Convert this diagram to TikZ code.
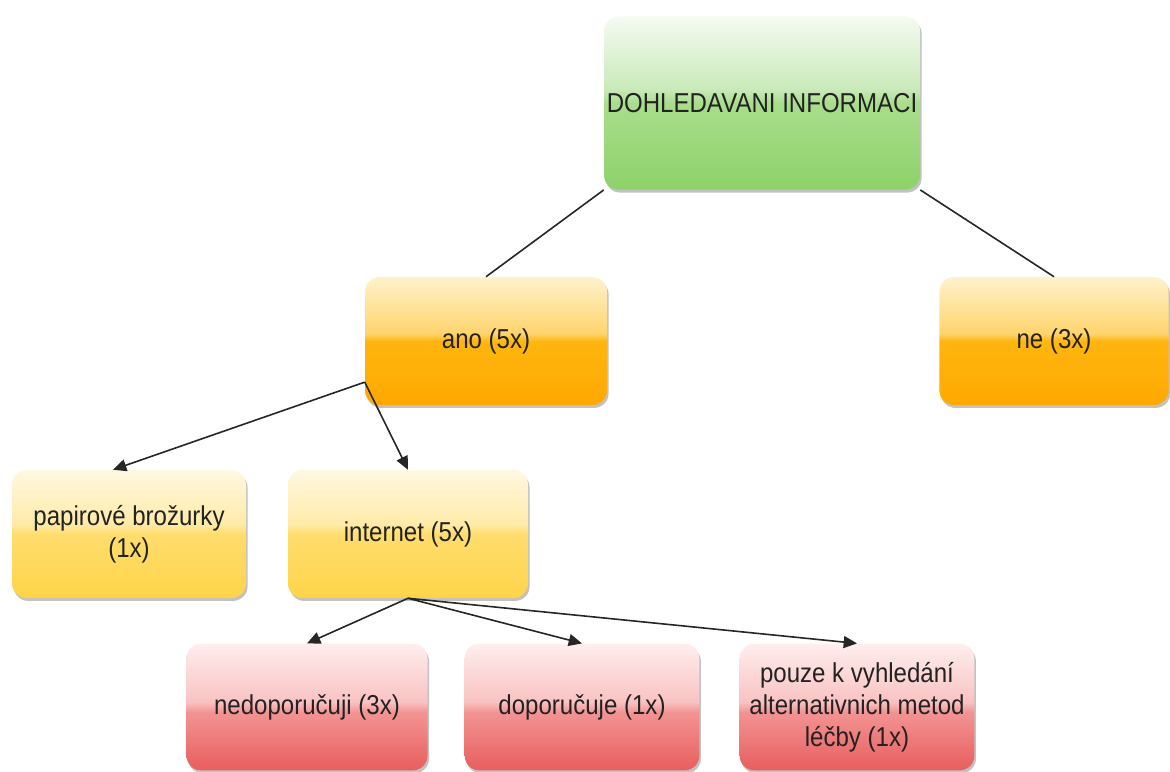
\documentclass[tikz,border=0pt]{standalone}
\usepackage{fontspec}
\setmainfont{Liberation Sans}[FakeStretch=0.88]
\usetikzlibrary{shadows,arrows.meta,calc}
\definecolor{txt}{HTML}{222222}
\definecolor{orB}{HTML}{FFA800}
\definecolor{orM}{HTML}{FFB60F}
\definecolor{orL}{HTML}{FFD46E}
\definecolor{orT}{HTML}{FFF2CC}
\definecolor{yeB}{HTML}{FFD448}
\definecolor{yeM}{HTML}{FFDD6E}
\definecolor{yeL}{HTML}{FFEBA8}
\definecolor{yeT}{HTML}{FFF8E2}
\definecolor{reB}{HTML}{E85E5E}
\definecolor{reM}{HTML}{F39393}
\definecolor{reL}{HTML}{F9C2C2}
\definecolor{reT}{HTML}{FFEEEE}
\definecolor{grB}{HTML}{8DD26A}
\definecolor{grM}{HTML}{A9DD8C}
\definecolor{grL}{HTML}{C9EABA}
\definecolor{grT}{HTML}{F5FBF2}
\pgfdeclareverticalshading{orgloss}{100bp}{color(0bp)=(orB); color(25bp)=(orB); color(50bp)=(orM); color(53bp)=(orL); color(75bp)=(orT); color(100bp)=(orT)}
\pgfdeclareverticalshading{yegloss}{100bp}{color(0bp)=(yeB); color(25bp)=(yeB); color(50bp)=(yeM); color(54bp)=(yeL); color(75bp)=(yeT); color(100bp)=(yeT)}
\pgfdeclareverticalshading{regloss}{100bp}{color(0bp)=(reB); color(25bp)=(reB); color(48bp)=(reM); color(52bp)=(reL); color(75bp)=(reT); color(100bp)=(reT)}
\pgfdeclareverticalshading{grgloss}{100bp}{color(0bp)=(grB); color(25bp)=(grB); color(50bp)=(grM); color(54bp)=(grL); color(75bp)=(grT); color(100bp)=(grT)}
\tikzset{
  box/.style={rounded corners=11pt, draw=none, text=txt, align=center,
    font=\fontsize{20.5}{24}\selectfont, inner sep=0pt,
    drop shadow={shadow xshift=1.2pt, shadow yshift=-2.2pt, opacity=0.4, fill=black!60}},
  greenbox/.style={box, shading=grgloss, minimum width=237pt, minimum height=130pt},
  orangebox/.style={box, shading=orgloss, minimum height=96pt},
  yellowbox/.style={box, shading=yegloss, minimum height=96pt},
  redbox/.style={box, shading=regloss, minimum height=95pt},
  conn/.style={draw=black!85, line width=1.2pt},
  arr/.style={conn, -{Triangle[length=10pt,width=9pt]}}
}
\begin{document}
\begin{tikzpicture}[x=0.75pt,y=-0.75pt]
\useasboundingbox (0,0) rectangle (1170,771);
\node[greenbox] (top) at (762,103) {DOHLEDAVANI INFORMACI};
\node[orangebox, minimum width=181.5pt] (ano) at (486,341) {ano (5x)};
\node[orangebox, minimum width=172pt] (ne) at (1054,341) {ne (3x)};
\node[yellowbox, minimum width=175.5pt] (pap) at (129,534) {papirové brožurky\\(1x)};
\node[yellowbox, minimum width=180pt] (int) at (408,534) {internet (5x)};
\node[redbox, minimum width=180.75pt] (ned) at (307,707) {nedoporučuji (3x)};
\node[redbox, minimum width=176pt] (dop) at (582,707) {doporučuje (1x)};
\node[redbox, minimum width=176pt] (pou) at (857,707) {pouze k vyhledání\\alternativnich metod\\léčby (1x)};
\coordinate (a0) at ($(ano.west)!0.64!(ano.south west)$);
\coordinate (papin) at ($(pap.north)+(-16,0)$);
\draw[conn] (top.south west) -- (ano.north);
\draw[conn] (top.south east) -- (ne.north);
\draw[arr] (a0) -- (papin);
\draw[arr] (a0) -- (int.north);
\draw[arr] (int.south) -- (ned.north);
\draw[arr] (int.south) -- (dop.north);
\draw[arr] (int.south) -- (pou.north);
\end{tikzpicture}
\end{document}
